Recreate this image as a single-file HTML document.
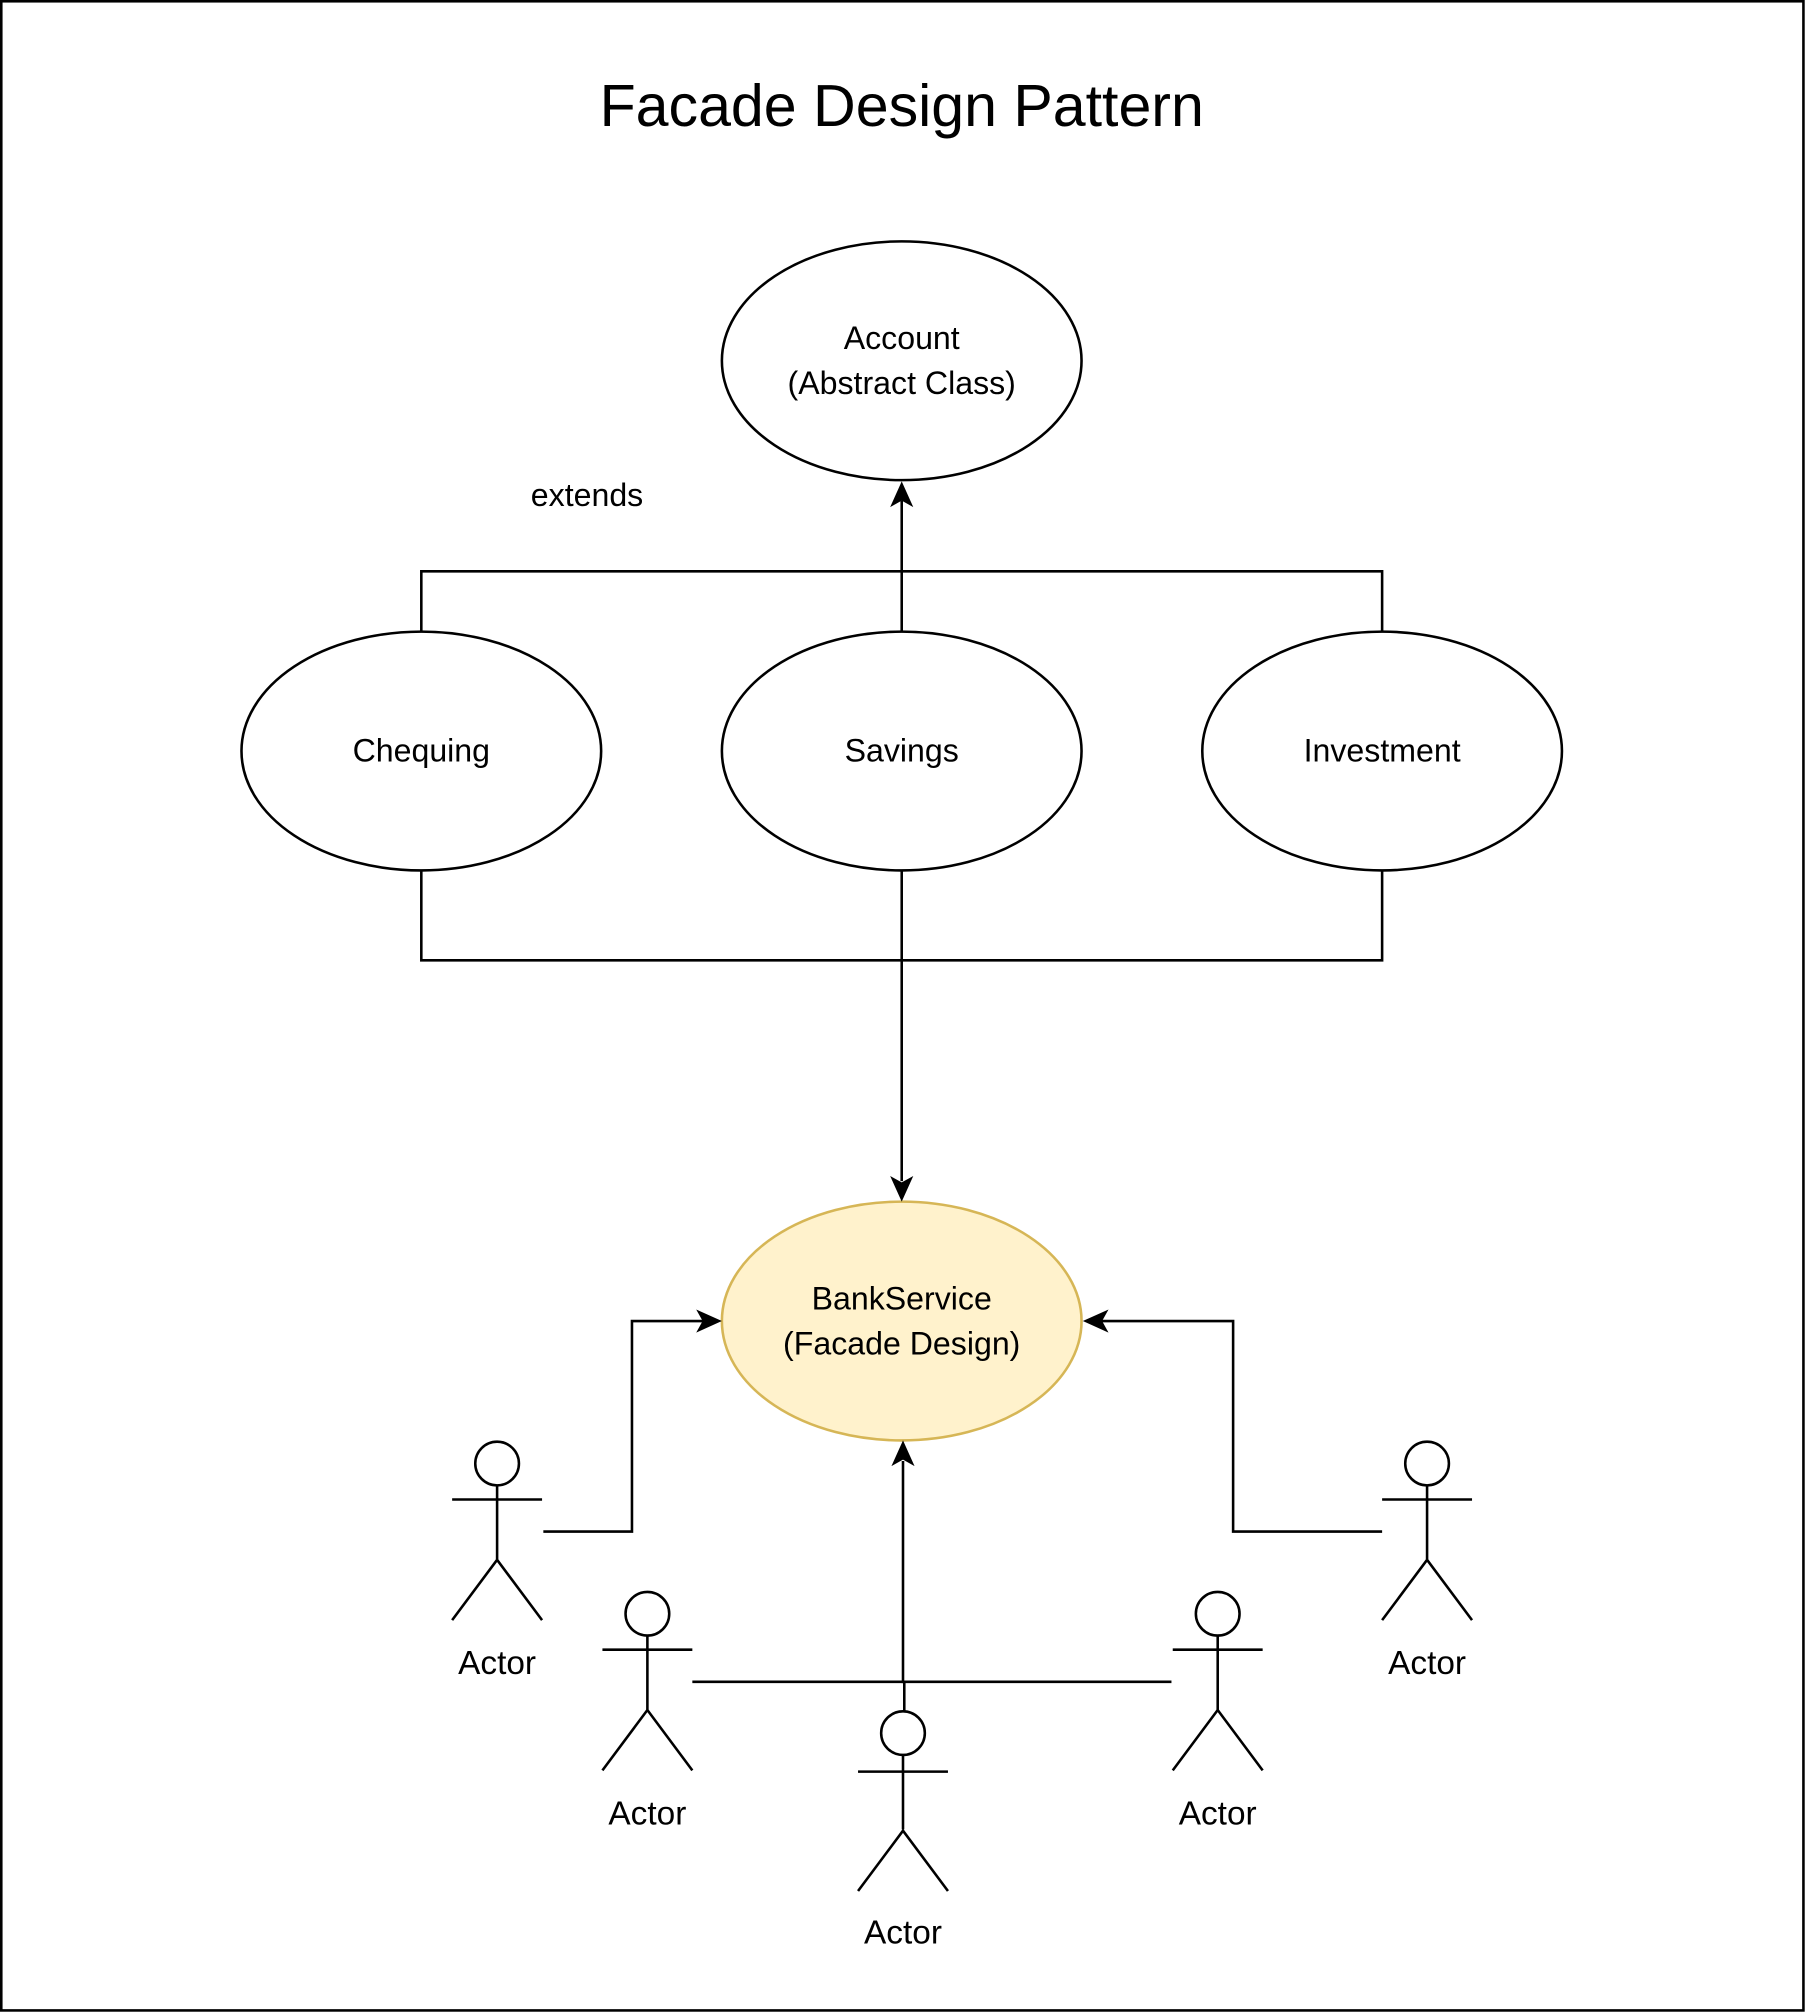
<!DOCTYPE html>
<html><head><style>html,body{margin:0;padding:0;background:#fff}svg{display:block}</style></head>
<body>
<svg width="1806" height="2013" viewBox="0 0 1406 1568" preserveAspectRatio="none" xmlns="http://www.w3.org/2000/svg" font-family="Liberation Sans, Arial, sans-serif">
<rect x="1" y="1" width="1403" height="1565" fill="#fff" stroke="#000" stroke-width="2"/>
<text x="702" y="98" font-size="46" text-anchor="middle">Facade Design Pattern</text>
<g fill="none" stroke="#000" stroke-width="2">
<path d="M328 492 V445 H1076 V492"/>
<path d="M702 492 V390"/>
<path d="M328 678 V748 H1076 V678"/>
<path d="M702 678 V920"/>
<path d="M423 1193 H492 V1029 H548"/>
<path d="M1076 1193 H960 V1029 H857"/>
<path d="M539 1310 H912"/>
<path d="M704 1333 V1310 H703 V1138"/>
</g>
<g stroke="#000" stroke-width="2" fill="#fff">
<ellipse cx="702" cy="281" rx="140" ry="93"/>
<ellipse cx="328" cy="585" rx="140" ry="93"/>
<ellipse cx="702" cy="585" rx="140" ry="93"/>
<ellipse cx="1076" cy="585" rx="140" ry="93"/>
<ellipse cx="702" cy="1029" rx="140" ry="93" fill="#fff2cc" stroke="#d6b656"/>
</g>
<g fill="#000">
<path d="M702 375 L711 395 L702 390 L693 395 Z"/>
<path d="M702 936 L693 916 L702 921 L711 916 Z"/>
<path d="M562 1029 L542 1020 L547 1029 L542 1038 Z"/>
<path d="M843 1029 L863 1020 L858 1029 L863 1038 Z"/>
<path d="M703 1122 L712 1142 L703 1137 L694 1142 Z"/>
</g>
<g font-size="25" text-anchor="middle">
<text x="702" y="272">Account</text>
<text x="702" y="307">(Abstract Class)</text>
<text x="457" y="394">extends</text>
<text x="328" y="593">Chequing</text>
<text x="702" y="593">Savings</text>
<text x="1076" y="593">Investment</text>
<text x="702" y="1020">BankService</text>
<text x="702" y="1055">(Facade Design)</text>
</g>
<g stroke="#000" stroke-width="2" fill="#fff">
<g transform="translate(387,1123)"><circle cx="0" cy="17" r="17"/><path d="M0 34 V92 M-35 45 H35 M-35 139 L0 92 L35 139" fill="none"/></g>
<g transform="translate(504,1240)"><circle cx="0" cy="17" r="17"/><path d="M0 34 V92 M-35 45 H35 M-35 139 L0 92 L35 139" fill="none"/></g>
<g transform="translate(703,1333)"><circle cx="0" cy="17" r="17"/><path d="M0 34 V92 M-35 47 H35 M-35 140 L0 93 L35 140" fill="none"/></g>
<g transform="translate(948,1240)"><circle cx="0" cy="17" r="17"/><path d="M0 34 V92 M-35 45 H35 M-35 139 L0 92 L35 139" fill="none"/></g>
<g transform="translate(1111,1123)"><circle cx="0" cy="17" r="17"/><path d="M0 34 V92 M-35 45 H35 M-35 139 L0 92 L35 139" fill="none"/></g>
</g>
<g font-size="26" text-anchor="middle">
<text x="387" y="1304">Actor</text>
<text x="504" y="1421">Actor</text>
<text x="703" y="1514">Actor</text>
<text x="948" y="1421">Actor</text>
<text x="1111" y="1304">Actor</text>
</g>
</svg>
</body></html>
